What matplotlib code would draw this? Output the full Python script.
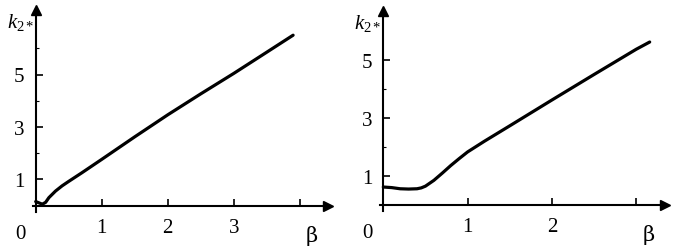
import numpy as np
import matplotlib
matplotlib.use("Agg")
import matplotlib.pyplot as plt

plt.rcParams['font.family'] = ['Liberation Serif', 'DejaVu Serif']
plt.rcParams['mathtext.fontset'] = 'custom'
plt.rcParams['mathtext.rm'] = 'Liberation Serif'
plt.rcParams['mathtext.it'] = 'Liberation Serif:italic'

# Left panel data
beta_left = [0.0, 0.05, 0.1, 0.15, 0.2, 0.3, 0.4, 0.5, 0.7, 1.0, 1.5, 2.0, 2.5, 3.0, 3.5, 3.9]
k_left = [0.15, 0.1, 0.05, 0.12, 0.3, 0.55, 0.75, 0.92, 1.25, 1.76, 2.62, 3.46, 4.26, 5.04, 5.85, 6.5]

# Right panel data
beta_right = [0.0, 0.1, 0.2, 0.3, 0.4, 0.45, 0.5, 0.6, 0.7, 0.8, 0.9, 1.0, 1.2, 1.5, 2.0, 2.5, 3.0, 3.16]
k_right = [0.62, 0.6, 0.56, 0.55, 0.56, 0.59, 0.65, 0.85, 1.1, 1.36, 1.6, 1.83, 2.2, 2.73, 3.62, 4.5, 5.37, 5.62]

left_xticks = [1, 2, 3, 4]
left_xlabels = ['1', '2', '3', '']
right_xticks = [1, 2, 3]
right_xlabels = ['1', '2', '']
yticks_major = [1, 3, 5]
left_yminor = [2, 4, 6]
right_yminor = [2, 4]

fig = plt.figure(figsize=(6.82, 2.53), dpi=100)
W, H = 682, 253

def make_ax(x0px, y0px, xmax, ymax, pxu_x, pxu_y):
    xmin = -3 / pxu_x
    ymin = -6 / pxu_y
    left = (x0px + xmin * pxu_x) / W
    bottom = (H - y0px + ymin * pxu_y) / H
    width = (xmax - xmin) * pxu_x / W
    height = (ymax - ymin) * pxu_y / H
    ax = fig.add_axes([left, bottom, width, height])
    ax.set_xlim(xmin, xmax)
    ax.set_ylim(ymin, ymax)
    ax.patch.set_alpha(0)
    for s in ['top', 'right']:
        ax.spines[s].set_visible(False)
    ax.spines['left'].set_position(('data', 0))
    ax.spines['bottom'].set_position(('data', 0))
    for s in ['left', 'bottom']:
        ax.spines[s].set_linewidth(1.5)
    ax.plot(1, 0, '>k', markersize=7, transform=ax.get_yaxis_transform(), clip_on=False)
    ax.plot(0, 1, '^k', markersize=7, transform=ax.get_xaxis_transform(), clip_on=False)
    return ax

axL = make_ax(35.7, 206.5, 4.43, 7.45, 66.0, 26.2)
axR = make_ax(383.3, 206.0, 3.34, 6.68, 84.3, 29.0)

for ax, bx, ky, xt, xl, ymin_t in [
    (axL, beta_left, k_left, left_xticks, left_xlabels, left_yminor),
    (axR, beta_right, k_right, right_xticks, right_xlabels, right_yminor),
]:
    ax.plot(bx, ky, color='black', linewidth=2.3, solid_capstyle='round')
    ax.set_xticks(xt)
    ax.set_xticklabels(xl)
    ax.set_yticks(yticks_major)
    ax.set_yticklabels([str(v) for v in yticks_major])
    ax.set_yticks(ymin_t, minor=True)
    ax.tick_params(axis='both', which='major', direction='in', length=5, width=1.2,
                   labelsize=15, color='black')
    ax.tick_params(axis='x', which='major', pad=9)
    ax.tick_params(axis='y', which='major', pad=8)
    ax.tick_params(axis='y', which='minor', direction='in', length=2.5, width=0.8)
    ax.annotate('0', xy=(0, 0), xycoords='data', xytext=(-15, -20), textcoords='offset points',
                ha='left', va='center', fontsize=15)
    ax.annotate(r'$k_{2*}$', xy=(0, 1), xycoords=('data', 'axes fraction'), xytext=(-21, -8),
                textcoords='offset points', ha='left', va='center', fontsize=15)
    ax.annotate('β', xy=(1, 0), xycoords=('axes fraction', 'data'), xytext=(-12, -21),
                textcoords='offset points', ha='center', va='center', fontsize=15,
                family=['DejaVu Serif'])

fig.savefig('out.png', dpi=100)
